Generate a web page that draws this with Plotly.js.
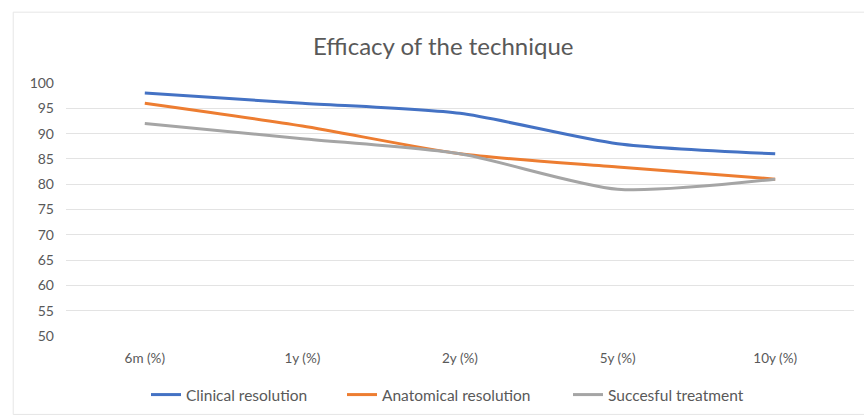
<!DOCTYPE html>
<html>
<head>
<meta charset="utf-8">
<script src="https://cdn.plot.ly/plotly-3.0.1.min.js"></script>
<style>html,body{margin:0;padding:0;background:#fff;}#chart{width:864px;height:416px;}</style>
</head>
<body>
<div id="chart"></div>
<script>
const categories = ["6m (%)", "1y (%)", "2y (%)", "5y (%)", "10y (%)"];
const clinical = [98, 96, 94, 88, 86];
const anatomical = [96, 91.5, 86, 83.4, 81];
const successful = [92, 89, 86, 79, 81];
const seriesNames = ["Clinical resolution", "Anatomical resolution", "Succesful treatment"];
const colors = ["#4472C4", "#ED7D31", "#A5A5A5"];
const yTicks = [50, 55, 60, 65, 70, 75, 80, 85, 90, 95, 100];

const font = "Lato, 'Open Sans', 'Liberation Sans', sans-serif";
const legendIds = ["legend", "legend2", "legend3"];
const legendTextX = [187, 383, 609];

const traces = [clinical, anatomical, successful].map((vals, i) => ({
  type: "scatter",
  mode: "lines",
  x: categories,
  y: vals,
  name: seriesNames[i],
  legend: legendIds[i],
  showlegend: true,
  line: {color: colors[i], width: 3, shape: "spline", smoothing: 0.7}
}));

const W = 864, H = 416, mL = 66, mR = 10, mT = 83, mB = 80;
const pw = W - mL - mR, ph = H - mT - mB;
const px = x => (x - mL) / pw;
const py = y => (H - mB - y) / ph;

const layout = {
  width: W, height: H,
  showlegend: true,
  margin: {l: mL, r: mR, t: mT, b: mB, autoexpand: false},
  paper_bgcolor: "#fff", plot_bgcolor: "#fff",
  font: {family: font, color: "#595959", size: 12},
  title: {text: "Efficacy of the technique", font: {family: font, size: 24, color: "#595959"},
          x: 0.513, xanchor: "center", y: 0.888, yanchor: "middle"},
  xaxis: {type: "category", showgrid: false, zeroline: false, showline: false, automargin: false,
          ticks: "", tickfont: {size: 13.5, color: "#595959"}, range: [-0.5, 4.5], ticklabelstandoff: 12},
  yaxis: {range: [50, 100], tickvals: yTicks, showgrid: true, gridcolor: "#e3e3e3", gridwidth: 1, automargin: false,
          zeroline: false, showline: false, ticks: "", tickfont: {size: 14, color: "#595959"}, ticklabelstandoff: 11},
  shapes: [{type: "rect", xref: "paper", yref: "paper", x0: -0.067, x1: 1.02, y0: -0.31, y1: 1.28,
            line: {color: "#e6e6e6", width: 1}, fillcolor: "rgba(0,0,0,0)", layer: "below"}]
};
legendIds.forEach((id, i) => {
  layout[id] = {orientation: "h", x: px(legendTextX[i] - 41), xanchor: "left", y: py(395), yanchor: "middle",
                font: {size: 15.5, color: "#595959"}, itemwidth: 30, bgcolor: "rgba(0,0,0,0)",
                borderwidth: 0, tracegroupgap: 0, visible: true};
});

Plotly.newPlot("chart", traces, layout, {displayModeBar: false, staticPlot: true});
</script>
</body>
</html>
